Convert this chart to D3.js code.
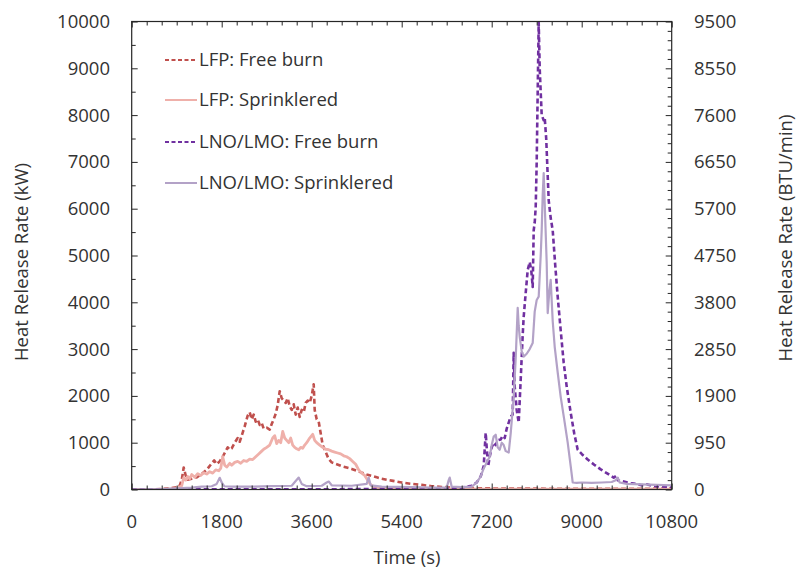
<!DOCTYPE html>
<html>
<head>
<meta charset="utf-8">
<script src="https://cdn.jsdelivr.net/npm/d3@7"></script>
<style>
  html, body { margin: 0; padding: 0; background: #fff; }
  svg { display: block; }
  text { font-family: "Open Sans", "Liberation Sans", sans-serif; fill: #333; }
</style>
</head>
<body>
<svg id="chart" width="797" height="573"></svg>
<script>
// ---- Data (time in s, heat release rate in kW) ----
const seriesNames = ["LFP: Free burn", "LFP: Sprinklered", "LNO/LMO: Free burn", "LNO/LMO: Sprinklered"];

const lfpFreeT = [0,300,600,800,950,1000,1040,1080,1120,1200,1300,1400,1500,1600,1650,1700,1760,1820,1880,1920,1960,2000,2060,2120,2160,2200,2260,2320,2360,2400,2440,2480,2520,2560,2600,2640,2700,2760,2800,2840,2880,2920,2960,3000,3040,3080,3120,3160,3200,3240,3280,3320,3360,3400,3440,3480,3520,3560,3600,3640,3660,3700,3740,3780,3820,3880,3940,4000,4100,4200,4300,4400,4500,4600,4700,4800,4900,5000,5200,5400,5600,5800,6000,6200,6400,6600,6800,7000,7500,8000,8500,9000,9500,10000,10800];
const lfpFreeV = [0,0,10,30,60,200,470,300,210,230,260,330,420,560,620,540,600,700,820,900,850,880,1000,1100,1020,1150,1350,1580,1650,1500,1600,1450,1500,1380,1420,1300,1320,1280,1400,1500,1620,1800,2100,1950,1900,1850,1950,1780,1700,1820,1600,1750,1550,1700,1650,1850,1900,1850,2000,2250,1700,1500,1450,1200,950,800,650,580,540,500,470,440,400,360,320,290,260,230,190,150,120,100,70,55,40,35,30,25,20,20,15,15,15,15,20];

const lfpSprT = [0,600,900,1000,1040,1080,1120,1160,1200,1260,1320,1380,1440,1500,1560,1620,1680,1740,1780,1820,1860,1900,1960,2000,2060,2120,2180,2240,2300,2360,2420,2480,2540,2600,2640,2700,2760,2820,2860,2900,2940,2980,3020,3060,3100,3140,3180,3220,3260,3300,3340,3380,3420,3460,3500,3560,3620,3660,3700,3760,3820,3880,3940,4000,4060,4120,4180,4240,4300,4360,4420,4480,4540,4600,4660,4720,4780,4860,5000,5400,6000,7000,8000,9000,10800];
const lfpSprV = [0,0,20,80,250,200,280,230,320,260,340,300,360,330,380,350,420,400,450,700,520,480,560,520,580,600,560,620,600,650,640,700,760,820,860,900,950,1100,1150,980,1050,1000,1240,1100,1050,1000,1100,950,900,870,850,900,880,950,1000,1100,1180,1050,1000,950,900,860,850,820,800,780,760,720,700,660,600,540,420,350,300,200,100,50,30,20,15,10,10,10,10];

const lnoFreeT = [0,3000,6000,6400,6600,6800,6900,6980,7040,7080,7100,7130,7160,7200,7240,7280,7320,7380,7420,7460,7500,7540,7580,7620,7640,7660,7700,7740,7780,7820,7840,7880,7920,7960,7990,8020,8040,8060,8080,8100,8120,8140,8160,8200,8240,8260,8290,8340,8380,8420,8470,8520,8580,8640,8700,8780,8850,8920,9000,9120,9250,9380,9500,9640,9700,9720,9800,9920,10000,10100,10200,10300,10400,10580,10700,10800];
const lnoFreeV = [0,5,10,20,40,80,150,280,500,1210,900,500,700,900,1000,950,1050,1070,1150,1100,1300,1430,1560,1600,2920,2200,1700,1430,2350,3300,3690,4200,4690,4860,4700,4330,5540,5700,6030,7000,8500,9980,9000,8000,7890,7950,7500,6180,5800,5540,4800,4120,3400,2710,2200,1640,1200,850,760,640,530,430,350,255,300,200,180,150,130,120,90,110,80,65,60,50];

const lnoSprT = [0,600,1200,1400,1600,1700,1760,1800,1850,2000,2400,2800,3200,3280,3340,3400,3500,3800,3900,3940,4000,4400,4700,4740,4780,5000,5600,6000,6300,6340,6360,6400,6600,6800,6900,6980,7040,7100,7160,7200,7240,7280,7320,7360,7400,7440,7480,7540,7580,7640,7680,7720,7740,7760,7800,7840,7900,7960,8020,8060,8100,8140,8180,8200,8220,8240,8270,8300,8320,8350,8380,8420,8460,8520,8580,8650,8720,8780,8820,8900,9000,9200,9400,9600,9680,9720,9760,9900,10200,10500,10800];
const lnoSprV = [0,10,40,60,70,120,250,150,70,60,60,70,80,180,255,120,70,80,150,170,90,80,120,255,90,60,50,40,40,200,255,60,50,60,150,280,450,575,700,950,1130,1170,900,850,1000,950,820,790,1200,1980,2800,3880,3500,3260,2950,2840,2900,3000,3130,3800,4050,4120,5000,5540,6300,6760,5800,4840,3770,4200,4480,3600,3050,2500,1980,1500,1000,500,150,140,150,140,150,160,200,255,150,120,110,100,90];

const xTicks = [0,1800,3600,5400,7200,9000,10800];
const yTicksLeft = [0,1000,2000,3000,4000,5000,6000,7000,8000,9000,10000];
const yTicksRight = [0,950,1900,2850,3800,4750,5700,6650,7600,8550,9500];

const seriesColors = ["#c0504d", "#efb0aa", "#7030a0", "#b3a2c7"];

// ---- Layout ----
const svg = d3.select("#chart");
const L = 131.7, R = 671.7, T = 21.5, B = 489.5;

const x = d3.scaleLinear().domain([0, 10800]).range([L, R]);
const yL = d3.scaleLinear().domain([0, 10000]).range([B, T]);
const yR = d3.scaleLinear().domain([0, 9500]).range([B, T]);

svg.append("rect").attr("width", 797).attr("height", 573).attr("fill", "#fff");

svg.append("clipPath").attr("id", "clip").append("rect")
  .attr("x", L).attr("y", T - 2).attr("width", R - L).attr("height", B - T + 2);

// ---- Series ----
const series = [
  { t: lfpFreeT, v: lfpFreeV, dash: "5,3", w: 2.6 },
  { t: lfpSprT, v: lfpSprV, dash: null, w: 2.8 },
  { t: lnoFreeT, v: lnoFreeV, dash: "5,3", w: 2.6 },
  { t: lnoSprT, v: lnoSprV, dash: null, w: 2.2 }
];
const line = d3.line().x(d => x(d[0])).y(d => yL(d[1]));
const g = svg.append("g").attr("clip-path", "url(#clip)");
series.forEach((s, i) => {
  const pts = s.t.map((t, k) => [t, s.v[k]]);
  const p = g.append("path").datum(pts)
    .attr("d", line)
    .attr("fill", "none")
    .attr("stroke", seriesColors[i])
    .attr("stroke-width", s.w)
    .attr("stroke-linejoin", "round");
  if (s.dash) p.attr("stroke-dasharray", s.dash);
});

// ---- Axes (ticks inside) ----
const axisColor = "#262626";
const minorX = d3.range(0, 10801, 300);
const minorL = d3.range(0, 10001, 500);
const minorR = d3.range(0, 9501, 190);

function styleAxis(a) {
  a.select(".domain").remove();
  a.selectAll("line").attr("stroke", axisColor).attr("stroke-width", 1);
}

const bx = svg.append("g").attr("transform", `translate(0,${B})`)
  .call(d3.axisTop(x).tickValues(minorX).tickSize(4).tickFormat(""));
styleAxis(bx);
bx.selectAll(".tick line").attr("y2", d => d % 1800 === 0 ? -6 : -4);
const tx = svg.append("g").attr("transform", `translate(0,${T})`)
  .call(d3.axisBottom(x).tickValues(minorX).tickSize(4).tickFormat(""));
styleAxis(tx);
tx.selectAll(".tick line").attr("y2", d => d % 1800 === 0 ? 6 : 4);
const lx = svg.append("g").attr("transform", `translate(${L},0)`)
  .call(d3.axisRight(yL).tickValues(minorL).tickSize(4).tickFormat(""));
styleAxis(lx);
lx.selectAll(".tick line").attr("x2", d => d % 1000 === 0 ? 6 : 4);
const rx = svg.append("g").attr("transform", `translate(${R},0)`)
  .call(d3.axisLeft(yR).tickValues(minorR).tickSize(4).tickFormat(""));
styleAxis(rx);
rx.selectAll(".tick line").attr("x2", d => Math.round(d) % 950 === 0 ? -6 : -4);

svg.append("rect").attr("x", L).attr("y", T).attr("width", R - L).attr("height", B - T)
  .attr("fill", "none").attr("stroke", axisColor).attr("stroke-width", 1.2);

// ---- Tick labels ----
const fs = 18.5;
svg.append("g").selectAll("text").data(xTicks).join("text")
  .attr("x", d => x(d)).attr("y", 522).attr("dy", "0.35em")
  .attr("text-anchor", "middle").attr("font-size", fs).text(d => d);
svg.append("g").selectAll("text").data(yTicksLeft).join("text")
  .attr("x", 110).attr("y", d => yL(d)).attr("dy", "0.35em")
  .attr("text-anchor", "end").attr("font-size", fs).text(d => d);
svg.append("g").selectAll("text").data(yTicksRight).join("text")
  .attr("x", 694).attr("y", d => yR(d)).attr("dy", "0.35em")
  .attr("text-anchor", "start").attr("font-size", fs).text(d => d);

// ---- Axis titles ----
svg.append("text").attr("x", 407).attr("y", 558).attr("dy", "0.35em")
  .attr("text-anchor", "middle").attr("font-size", fs).text("Time (s)");
svg.append("text").attr("transform", "translate(22,262) rotate(-90)").attr("dy", "0.35em")
  .attr("text-anchor", "middle").attr("font-size", fs).text("Heat Release Rate (kW)");
svg.append("text").attr("transform", "translate(786,238) rotate(-90)").attr("dy", "0.35em")
  .attr("text-anchor", "middle").attr("font-size", fs).text("Heat Release Rate (BTU/min)");

// ---- Legend ----
const legY = [60, 100, 142, 183];
const leg = svg.append("g");
seriesNames.forEach((name, i) => {
  const ln = leg.append("line").attr("x1", 165).attr("x2", 197)
    .attr("y1", legY[i]).attr("y2", legY[i])
    .attr("stroke", seriesColors[i]).attr("stroke-width", 2);
  if (series[i].dash) ln.attr("stroke-dasharray", "4,2.5");
  leg.append("text").attr("x", 199).attr("y", legY[i]).attr("dy", "0.35em")
    .attr("font-size", fs).text(name);
});
</script>
</body>
</html>
